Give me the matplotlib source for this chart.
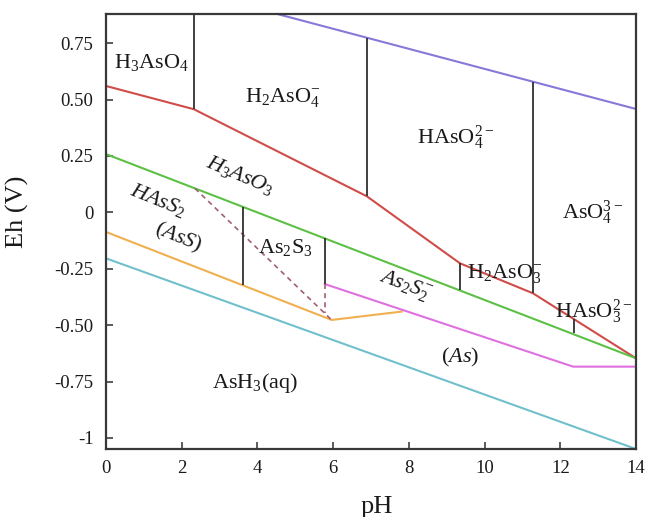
import numpy as np
import matplotlib
matplotlib.use("Agg")
import matplotlib.pyplot as plt

plt.rcParams['font.family'] = ['Liberation Serif', 'DejaVu Serif']
plt.rcParams['mathtext.fontset'] = 'custom'
plt.rcParams['mathtext.rm'] = 'Liberation Serif'
plt.rcParams['mathtext.it'] = 'Liberation Serif:italic'
plt.rcParams['mathtext.bf'] = 'Liberation Serif:bold'

# ---- data ----
o2_pH = [4.30, 14.0]
o2_Eh = [0.889, 0.458]

as5_as3_pH = [0.0, 2.32, 6.89, 9.35, 11.28, 14.0]
as5_as3_Eh = [0.560, 0.457, 0.071, -0.226, -0.359, -0.647]

as3_sulf_pH = [0.0, 14.0]
as3_sulf_Eh = [0.258, -0.647]

ass_pH = [0.0, 5.96, 7.81]
ass_Eh = [-0.087, -0.477, -0.440]

as_pH = [5.78, 12.34, 14.0]
as_Eh = [-0.318, -0.684, -0.684]

ash3_pH = [0.0, 14.0]
ash3_Eh = [-0.204, -1.049]

dash_pH = [2.35, 5.96]
dash_Eh = [0.106, -0.477]
dash_v_pH = [5.78, 5.78]
dash_v_Eh = [-0.318, -0.448]

vert_pH = [2.32, 6.89, 11.28, 3.63, 5.78, 9.35, 12.36]
vert_top = [0.90, 0.773, 0.577, 0.022, -0.115, -0.226, -0.473]
vert_bot = [0.457, 0.071, -0.359, -0.324, -0.318, -0.346, -0.536]

xticks = [0, 2, 4, 6, 8, 10, 12, 14]
yticks = [0.75, 0.50, 0.25, 0, -0.25, -0.50, -0.75, -1]
ytick_labels = ['0.75', '0.50', '0.25', '0', '-0.25', '-0.50', '-0.75', '-1']

labels = [
    (r'$\mathrm{H_3AsO_4}$', 1.20, 0.666, 0),
    (r'$\mathrm{H_2AsO_4^{-}}$', 4.67, 0.51, 0),
    (r'$\mathrm{HAsO_4^{2-}}$', 9.22, 0.329, 0),
    (r'$\mathrm{AsO_4^{3-}}$', 12.84, -0.003, 0),
    (r'$\mathit{H_3AsO_3}$', 3.54, 0.165, -23),
    (r'$\mathit{HAsS_2}$', 1.38, 0.054, -22),
    (r'$\mathit{(AsS)}$', 1.90, -0.11, -22),
    (r'$\mathrm{As_2S_3}$', 4.73, -0.158, 0),
    (r'$\mathit{As_2S_2^{-}}$', 7.90, -0.322, -20),
    (r'$\mathrm{H_2AsO_3^{-}}$', 10.54, -0.27, 0),
    (r'$\mathrm{HAsO_3^{2-}}$', 12.89, -0.442, 0),
    (r'$\mathit{(As)}$', 9.35, -0.645, 0),
    (r'$\mathrm{AsH_3(aq)}$', 3.94, -0.757, 0),
]

fig = plt.figure(figsize=(6.46, 5.17), dpi=100)
ax = fig.add_axes([106/646, 1-449/517, 530/646, 435/517])

lw = 1.5
ax.plot(o2_pH, o2_Eh, color='#8878d8', lw=lw)
ax.plot(as5_as3_pH, as5_as3_Eh, color='#d04c48', lw=lw)
ax.plot(as3_sulf_pH, as3_sulf_Eh, color='#5cc044', lw=lw)
ax.plot(ass_pH, ass_Eh, color='#f0b050', lw=lw)
ax.plot(as_pH, as_Eh, color='#e070e0', lw=lw)
ax.plot(ash3_pH, ash3_Eh, color='#70c0cc', lw=lw)
ax.plot(dash_pH, dash_Eh, color='#a06070', lw=1.2, ls=(0, (3, 2.5)))
ax.plot(dash_v_pH, dash_v_Eh, color='#a06070', lw=1.2, ls=(0, (3, 2.5)))
ax.vlines(vert_pH, vert_bot, vert_top, color='#303030', lw=1.3)

for txt, x, y, rot in labels:
    ax.text(x, y, txt, fontsize=16, ha='center', va='center',
            rotation=rot, rotation_mode='anchor', color='#1a1a1a')

ax.set_xlim(0, 14)
ax.set_ylim(-1.049, 0.879)
ax.set_xticks(xticks)
ax.set_xticklabels([str(t) for t in xticks])
ax.set_yticks(yticks)
ax.set_yticklabels(ytick_labels)
ax.tick_params(direction='in', length=5, width=1.2, color='#404040',
               labelsize=13.5, top=False, right=False, labelcolor='#1a1a1a')
ax.tick_params(axis='y', pad=9)
ax.tick_params(axis='x', pad=8)
for s in ax.spines.values():
    s.set_linewidth(1.6)
    s.set_color('#383838')

ax.set_xlabel('pH', fontsize=19, color='#1a1a1a')
ax.xaxis.set_label_coords(0.51, -0.133)
ax.xaxis.label.set_va('center')
ax.set_ylabel('Eh (V)', fontsize=19, color='#1a1a1a')
ax.yaxis.set_label_coords(-0.168, 0.545)
ax.yaxis.label.set_va('center')

fig.savefig('out.png', dpi=100)
